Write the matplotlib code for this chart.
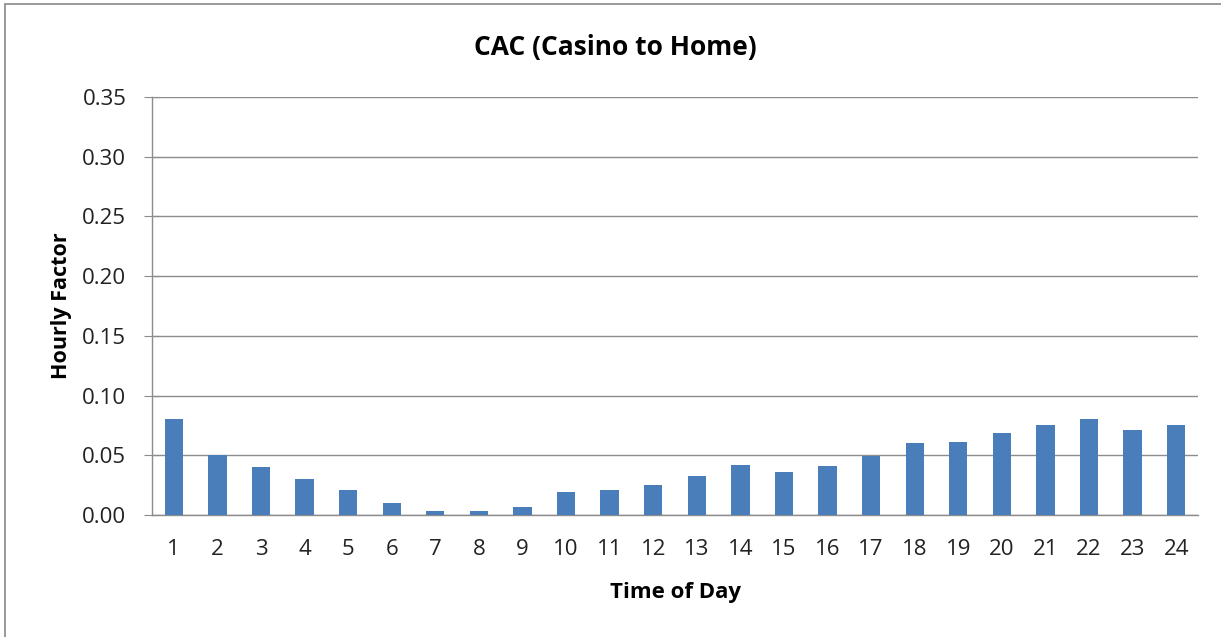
import numpy as np
import matplotlib
matplotlib.use('Agg')
from matplotlib import pyplot as plt
from matplotlib.patches import Rectangle

hours = list(range(1, 25))
factor = [0.080, 0.050, 0.040, 0.030, 0.021, 0.010, 0.003, 0.003,
          0.007, 0.019, 0.021, 0.025, 0.033, 0.042, 0.036, 0.041,
          0.049, 0.060, 0.061, 0.069, 0.075, 0.080, 0.071, 0.075]
yticks = [0.00, 0.05, 0.10, 0.15, 0.20, 0.25, 0.30, 0.35]

plt.rcParams['font.family'] = ['Open Sans', 'DejaVu Sans']

fig = plt.figure(figsize=(12.21, 6.37), dpi=100)
# outer chart frame (cropped at right/bottom)
fig.patches.append(Rectangle((5 / 1221, -0.1), 1.2, 1.1 - 4 / 637,
                             transform=fig.transFigure, fill=False,
                             edgecolor='#878787', linewidth=1.2))

ax = fig.add_axes([152 / 1221, 122 / 637, 1046 / 1221, 418 / 637])
ax.bar(hours, factor, width=0.42, color='#4a7ebb', zorder=3)

ax.set_xlim(0.5, 24.5)
ax.set_ylim(0, 0.35)
ax.set_xticks(hours)
ax.set_xticklabels([str(h) for h in hours])
ax.set_yticks(yticks)
ax.set_yticklabels(['%.2f' % v for v in yticks])
ax.grid(axis='y', color='#8c8c8c', linewidth=1.0, zorder=0)

for s in ['top', 'right']:
    ax.spines[s].set_visible(False)
ax.spines['left'].set_color('#8c8c8c')
ax.spines['bottom'].set_color('#8c8c8c')
ax.spines['left'].set_linewidth(1.0)
ax.spines['bottom'].set_linewidth(1.0)

ax.tick_params(axis='x', length=0, pad=17, labelsize=16, labelcolor='#222222')
ax.tick_params(axis='y', direction='inout', length=11, color='#8c8c8c',
               pad=13, labelsize=16, labelcolor='#222222')

ax.set_xlabel('Time of Day', fontsize=16, fontweight='bold', labelpad=16)
ax.set_ylabel('Hourly Factor', fontsize=15.5, fontweight='bold', labelpad=7)
fig.text(615 / 1221, 1 - 48 / 637, 'CAC (Casino to Home)', ha='center',
         va='center', fontsize=19, fontweight='bold')

fig.savefig('out.png', dpi=100)
